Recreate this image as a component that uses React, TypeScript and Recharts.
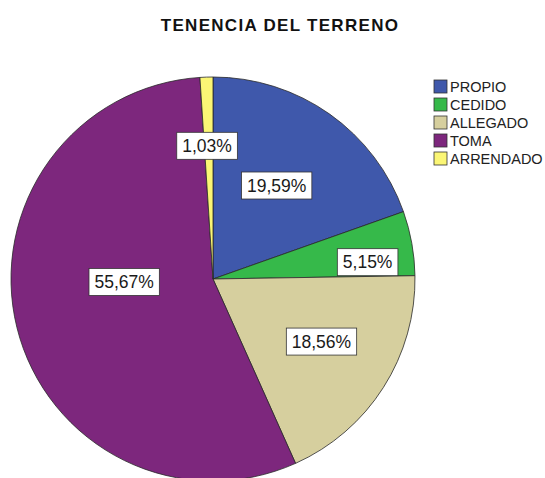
import React from "react";
import { PieChart, Pie, Cell, Legend } from "recharts";

const categories = ["PROPIO", "CEDIDO", "ALLEGADO", "TOMA", "ARRENDADO"];
const percentages = [19.59, 5.15, 18.56, 55.67, 1.03];
const colors = ["#3F58AB", "#36B94A", "#D6CF9E", "#7D277D", "#FBF675"];

const data = categories.map((name, i) => ({ name, value: percentages[i] }));

// label placement: [fraction of radius, angle shift in degrees (recharts convention)]
const labelPlacement: [number, number][] = [
  [0.56, 1],
  [0.77, -4],
  [0.62, 2.5],
  [0.44, -12],
  [0.66, 0.7],
];

const FONT = "'Liberation Sans', Arial, Helvetica, sans-serif";
const RAD = Math.PI / 180;

function charWidth(c: string, size: number) {
  if (c === ",") return size * 0.278;
  if (c === "%") return size * 0.889;
  return size * 0.556;
}

const renderLabel = (props: any) => {
  const { cx, cy, midAngle, outerRadius, index, value } = props;
  const [frac, shift] = labelPlacement[index];
  const ang = midAngle + shift;
  const r = outerRadius * frac;
  const x = cx + Math.cos(-ang * RAD) * r;
  const y = cy + Math.sin(-ang * RAD) * r;
  const text = value.toFixed(2).replace(".", ",") + "%";
  const size = 17.5;
  let w = 0;
  for (const c of text) w += charWidth(c, size);
  const bw = w + 11;
  const bh = 27;
  return (
    <g key={`lbl-${index}`}>
      <rect
        x={x - bw / 2}
        y={y - bh / 2}
        width={bw}
        height={bh}
        fill="#ffffff"
        stroke="#333333"
        strokeWidth={0.8}
      />
      <text
        x={x}
        y={y + 6.3}
        textAnchor="middle"
        fontFamily={FONT}
        fontSize={size}
        fill="#1a1a1a"
      >
        {text}
      </text>
    </g>
  );
};

const renderLegend = () => (
  <svg width={125} height={100}>
    {categories.map((name, i) => (
      <g key={name}>
        <rect
          x={1}
          y={1 + i * 18}
          width={13}
          height={13}
          fill={colors[i]}
          stroke="#333333"
          strokeWidth={0.8}
        />
        <text
          x={17}
          y={12.8 + i * 18}
          fontFamily={FONT}
          fontSize={14.5}
          fill="#222222"
        >
          {name}
        </text>
      </g>
    ))}
  </svg>
);

export default function App() {
  return (
    <div style={{ position: "absolute", left: 0, top: 0, width: 545, height: 478, background: "#fff", overflow: "hidden" }}>
      <div
        style={{
          position: "absolute",
          left: 0,
          top: 16,
          width: 560,
          textAlign: "center",
          fontFamily: FONT,
          fontWeight: "bold",
          fontSize: 17,
          color: "#111",
          letterSpacing: 1.3,
        }}
      >
        TENENCIA DEL TERRENO
      </div>
      <PieChart width={545} height={478} margin={{ top: 0, right: 0, bottom: 0, left: 0 }}>
        <Pie
          data={data}
          dataKey="value"
          nameKey="name"
          cx={213}
          cy={279}
          outerRadius={202}
          startAngle={90}
          endAngle={-270}
          stroke="#2a2a2a"
          strokeWidth={0.8}
          label={renderLabel}
          labelLine={false}
          isAnimationActive={false}
        >
          {data.map((d, i) => (
            <Cell key={d.name} fill={colors[i]} />
          ))}
        </Pie>
        <Legend
          content={renderLegend}
          layout="vertical"
          align="right"
          verticalAlign="top"
          wrapperStyle={{ position: "absolute", left: 433, top: 79, width: 125 }}
        />
      </PieChart>
    </div>
  );
}
